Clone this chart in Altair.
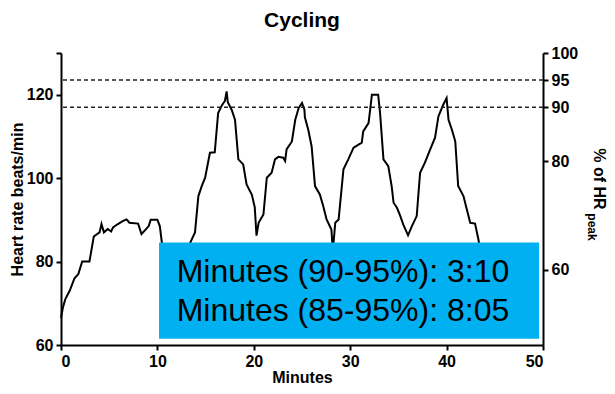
import altair as alt
import pandas as pd

# Heart rate trace (minutes, beats/min)
minutes = [0.0, 0.2, 0.45, 0.9, 1.4, 1.8, 2.2, 2.95, 3.4, 4.0, 4.2, 4.45, 4.85, 5.2, 5.4,
           5.9, 6.4, 6.8, 7.1, 8.0, 8.35, 8.75, 9.1, 9.3, 10.0, 10.25, 10.6, 11.5, 12.5,
           13.3, 13.9, 14.25, 14.6, 14.95, 15.45, 15.95, 16.3, 16.7, 17.0, 17.18, 17.3,
           17.7, 18.05, 18.4, 18.9, 19.25, 19.8, 20.1, 20.28, 20.5, 21.0, 21.35, 21.85,
           22.2, 22.55, 23.05, 23.25, 23.4, 23.95, 24.3, 24.65, 25.0, 25.25, 25.3, 25.65,
           26.0, 26.35, 26.85, 27.2, 27.55, 28.05, 28.2, 28.45, 28.8, 29.3, 29.8, 30.35,
           30.7, 31.2, 31.35, 31.9, 32.05, 32.25, 32.9, 33.1, 33.45, 33.95, 34.3, 34.5,
           34.85, 35.2, 35.5, 36.0, 36.4, 36.9, 37.25, 37.75, 38.3, 38.8, 39.15, 39.65,
           40.0, 40.2, 40.55, 40.9, 41.2, 41.75, 42.1, 42.45, 42.95, 43.3, 43.6, 44.2]
heart_rate = [66.5, 69, 71, 73, 76, 77, 80, 80, 86, 87, 89, 87, 87.8, 87.2, 88.2,
              89, 89.7, 90.1, 89.3, 89.1, 86.6, 87.6, 88.5, 90, 90, 88.5, 82, 79, 80,
              84, 87, 95.7, 98.1, 100.1, 106.1, 106.2, 115.6, 117.5, 118.5, 120.8, 118.2,
              116.4, 114, 104.5, 103.3, 98.5, 96, 93, 86.2, 89.3, 91.3, 100.1, 101.3,
              104.5, 105.1, 104.9, 104.1, 106.9, 108.8, 114, 116.8, 118, 116.4, 114.6, 111.6,
              107.6, 98.1, 96.1, 93.3, 90.1, 87.7, 82.5, 89.3, 90.1, 102.1, 104.5, 107.3,
              107.8, 108.5, 111.2, 113.2, 116, 120, 120, 115.6, 104.5, 102.9, 98.1, 94.1,
              92.9, 90.9, 88.9, 86.3, 88.5, 90.9, 101.3, 103.7, 106.9, 109.7, 114.8, 117.6,
              119.2, 114, 111.6, 108.8, 98.1, 95.7, 92.5, 89.3, 89.1, 85.3, 81, 78]

# Reference lines (% of HR peak)
ref_pct = [95, 90]

# Annotation box and text
box_x = [10.17, 49.59]
box_y = [61.5, 84.6]
note_lines = ["Minutes (90-95%): 3:10", "Minutes (85-95%): 8:05"]
note_x = [12.0, 12.0]
note_y = [75.0, 65.7]

hr_domain = [60, 130]
pct_domain = [60 / 130 * 100, 100]
x_ticks = [0, 10, 20, 30, 40, 50]
hr_ticks = [60, 80, 100, 120, 130]
pct_ticks = [60, 80, 90, 95, 100]

FONT = "Liberation Sans"

df = pd.DataFrame({"min": minutes, "hr": heart_rate})
xs = alt.Scale(domain=[0, 50], nice=False, zero=False)
ys = alt.Scale(domain=hr_domain, nice=False, zero=False)
ps = alt.Scale(domain=pct_domain, nice=False, zero=False)

line = alt.Chart(df).mark_line(color="black", strokeWidth=2).encode(
    x=alt.X("min:Q", scale=xs, axis=alt.Axis(values=x_ticks, title="Minutes", titlePadding=0)),
    y=alt.Y("hr:Q", scale=ys, axis=alt.Axis(
        orient="left", values=hr_ticks, title="Heart rate beats/min",
        labelExpr="datum.value == 130 ? '' : datum.label", titlePadding=1)),
)

rules = alt.Chart(pd.DataFrame({"pct": ref_pct})).mark_rule(
    color="#222222", strokeWidth=1.5, strokeDash=[4, 3]
).encode(
    y=alt.Y("pct:Q", scale=ps, axis=alt.Axis(orient="right", values=pct_ticks, title=None)),
)

box = alt.Chart(pd.DataFrame({"x1": [box_x[0]], "x2": [box_x[1]], "y1": [box_y[0]], "y2": [box_y[1]]})).mark_rect(
    color="#00B0F0"
).encode(
    x=alt.X("x1:Q", scale=xs),
    x2="x2:Q",
    y=alt.Y("y1:Q", scale=ys, axis=None),
    y2="y2:Q",
)

notes = alt.Chart(pd.DataFrame({"t": note_lines, "x": note_x, "y": note_y})).mark_text(
    font=FONT, fontSize=32, align="left", baseline="alphabetic", color="black"
).encode(
    x=alt.X("x:Q", scale=xs),
    y=alt.Y("y:Q", scale=ys, axis=None),
    text="t:N",
)

# Right-axis title "% of HR" with subscript "peak"
right_title = alt.Chart(pd.DataFrame({"t": ["% of HR"]})).mark_text(
    font=FONT, fontSize=16, fontWeight="bold", angle=90, align="center", baseline="middle", color="black"
).encode(
    text="t:N",
    x=alt.value(538),
    y=alt.value(126),
)

peak = alt.Chart(pd.DataFrame({"t": ["peak"]})).mark_text(
    font=FONT, fontSize=12, fontWeight="bold", angle=90, align="center", baseline="middle", color="black"
).encode(
    text="t:N",
    x=alt.value(531),
    y=alt.value(174),
)

title = alt.Chart(pd.DataFrame({"t": ["Cycling"]})).mark_text(
    font=FONT, fontSize=21, fontWeight="bold", align="center", baseline="alphabetic", color="black"
).encode(
    text="t:N",
    x=alt.value(241),
    y=alt.value(-26),
)

chart = alt.layer(line, rules, box, notes, right_title, peak, title).resolve_scale(y="independent").properties(
    width=482,
    height=292,
    autosize=alt.AutoSizeParams(type="none"),
    padding={"left": 53, "top": 45, "right": 64, "bottom": 40},
).configure_view(stroke=None).configure_axis(
    grid=False,
    labelFont=FONT, labelFontSize=16, labelFontWeight="bold", labelColor="black",
    titleFont=FONT, titleFontSize=16, titleFontWeight="bold", titleColor="black",
    domainColor="black", domainWidth=2, tickColor="black", tickWidth=2, tickSize=5,
    labelPadding=3,
)

chart.save("out.html", embed_options={"renderer": "svg", "actions": False})
